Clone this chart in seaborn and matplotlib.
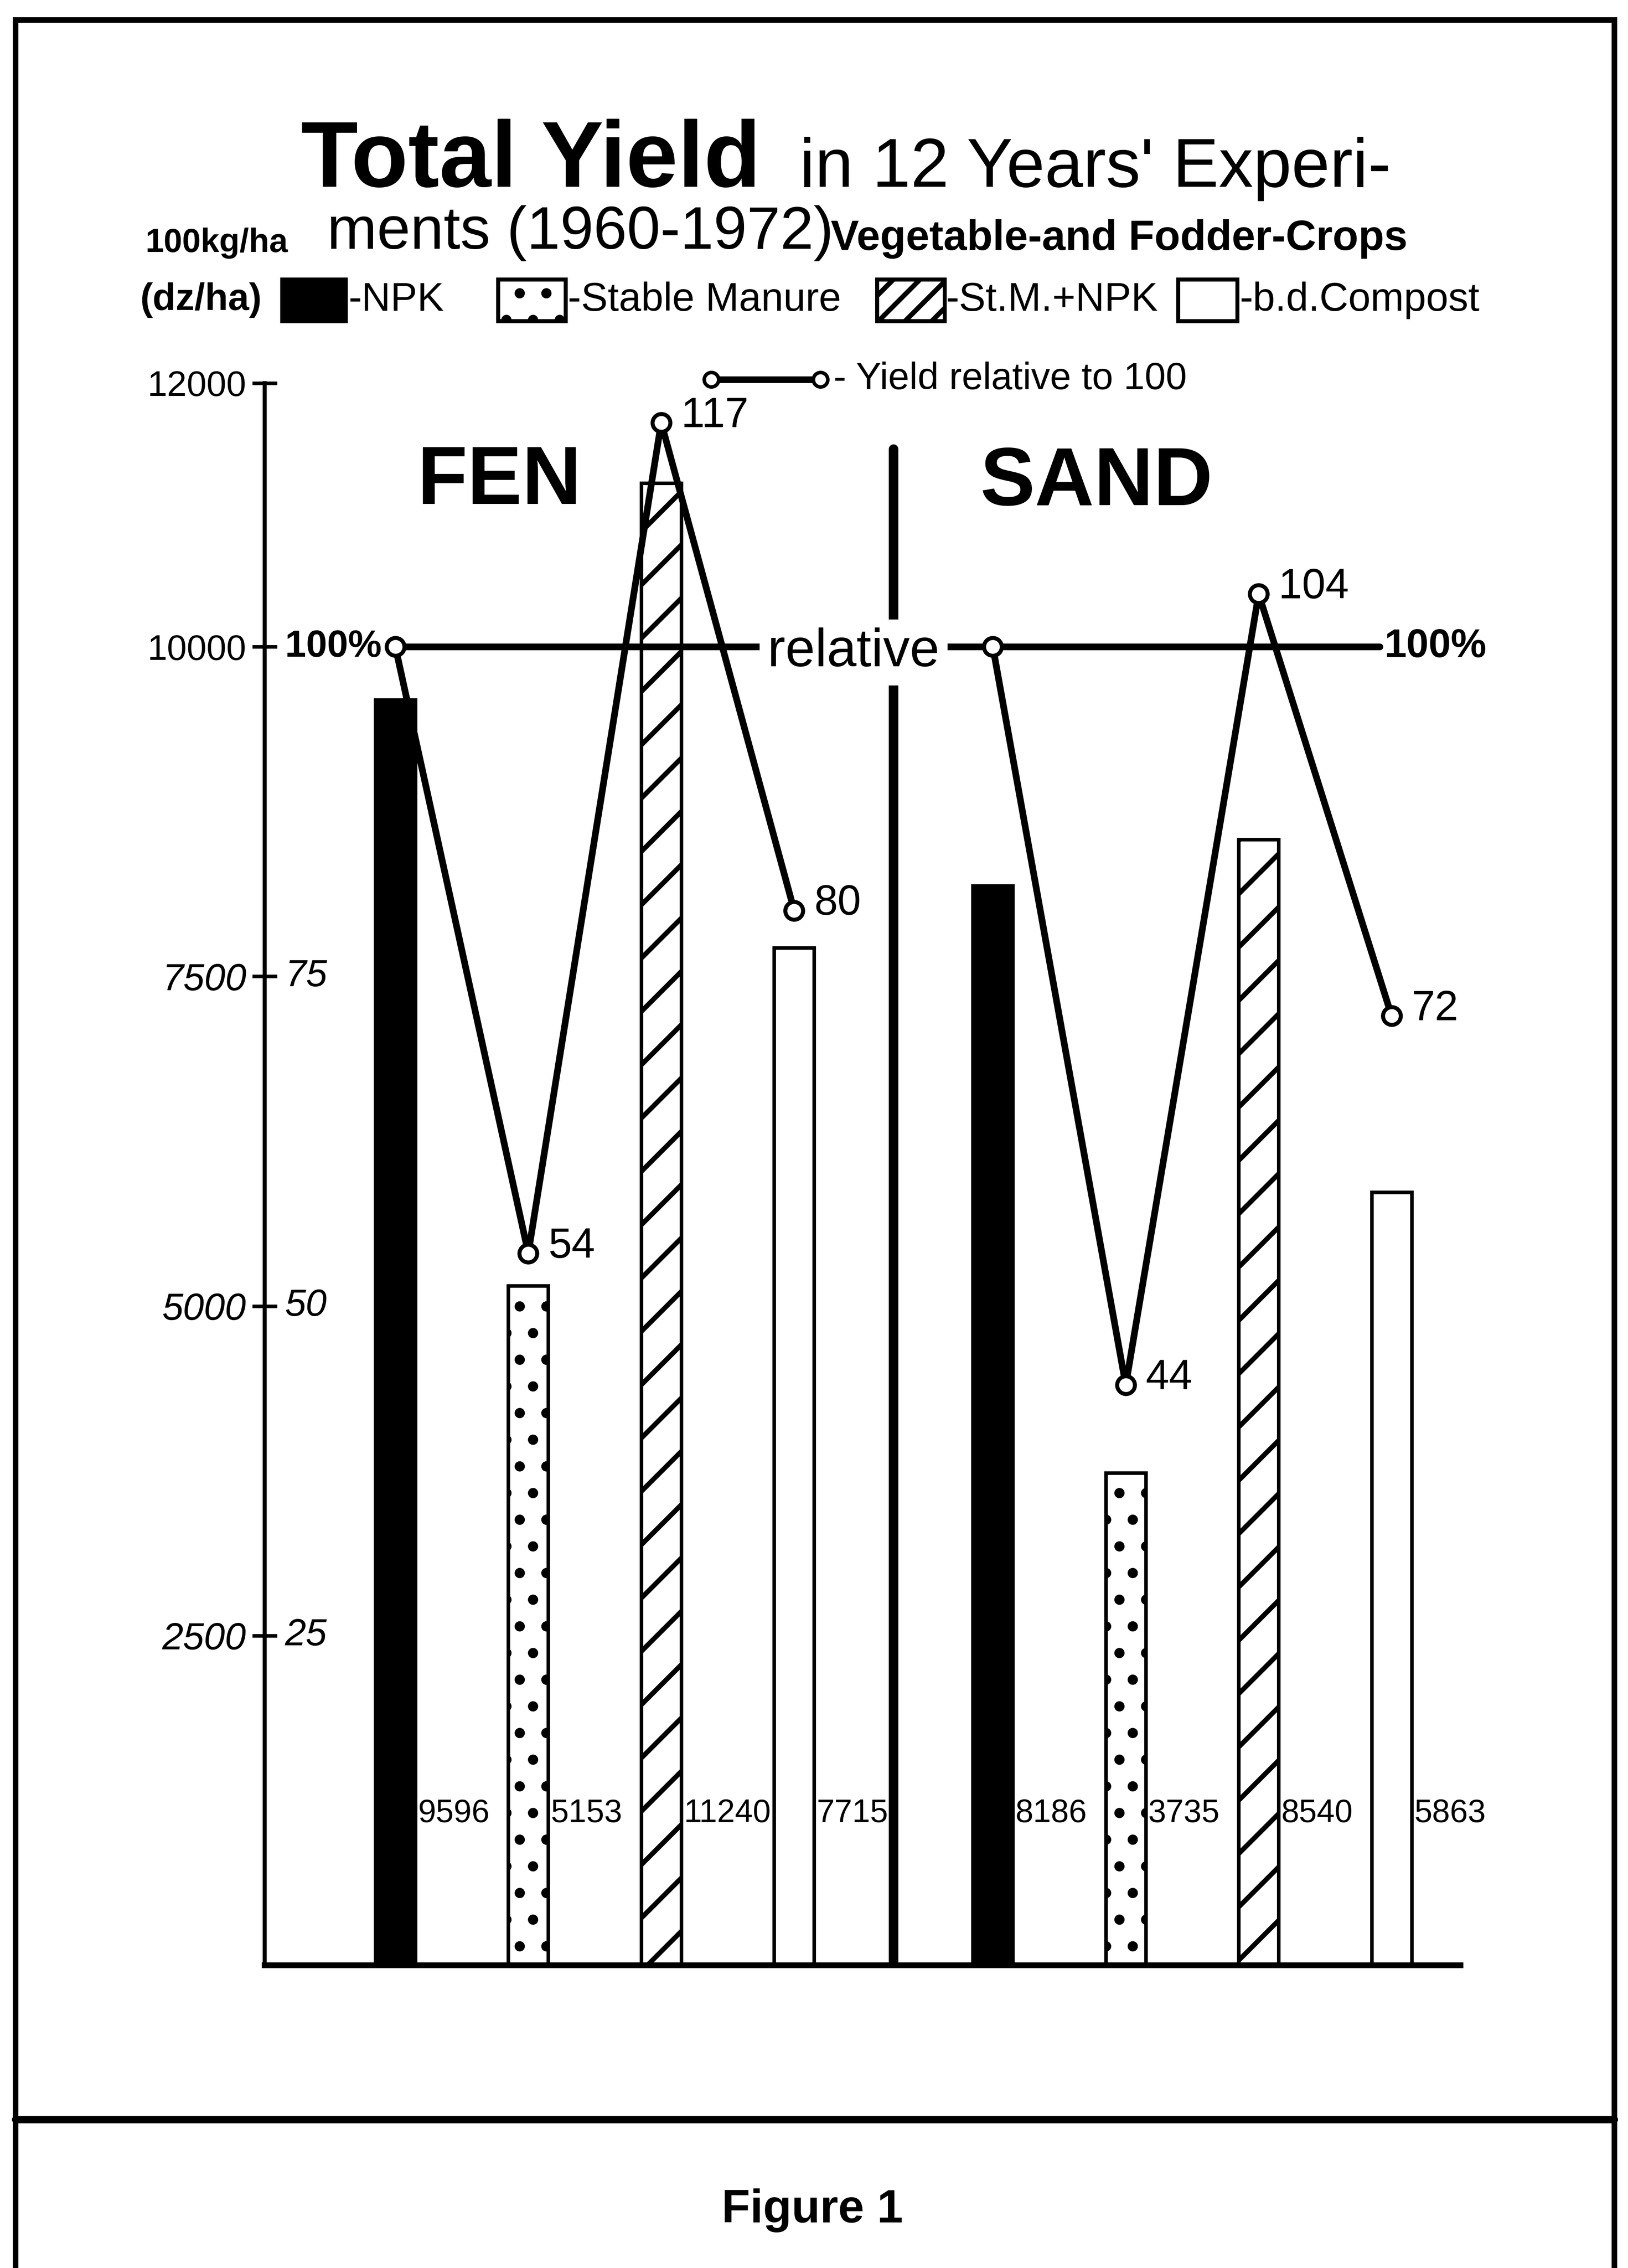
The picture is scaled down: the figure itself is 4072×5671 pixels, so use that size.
import numpy as np
import pandas as pd
import seaborn as sns
import matplotlib.pyplot as plt
from matplotlib.patches import Rectangle
from matplotlib.lines import Line2D

# values
soils = ['FEN', 'SAND']
treatments = ['NPK', 'Stable Manure', 'St.M.+NPK', 'b.d.Compost']
fen_yield = [9596, 5153, 11240, 7715]
sand_yield = [8186, 3735, 8540, 5863]
fen_rel = [100, 54, 117, 80]
sand_rel = [100, 44, 104, 72]

ytick_vals = [2500, 5000, 7500, 10000, 12000]
ytick_labels = ['2500', '5000', '7500', '10000', '12000']
pct_vals = [25, 50, 75, 100]
pct_labels = ['25', '50', '75', '100%']

bar_colors = ['black', 'white', 'white', 'white']
bar_hatches = ['', '.', '/', '']
legend_hatches = ['', '.', '//', '']
legend_labels = ['-NPK', '-Stable Manure', '-St.M.+NPK', '-b.d.Compost']

df = pd.DataFrame({
    'soil': np.repeat(soils, len(treatments)),
    'treatment': treatments * len(soils),
    'yield': fen_yield + sand_yield,
})

sns.set_style('white')
plt.rcParams['font.family'] = ['Liberation Sans', 'DejaVu Sans']
plt.rcParams['hatch.linewidth'] = 2.2
plt.rcParams['axes.edgecolor'] = 'black'
plt.rcParams['text.color'] = 'black'
plt.rcParams['ytick.color'] = 'black'

fig = plt.figure(figsize=(10.18, 14.1775), dpi=400)
ax = fig.add_axes([0.1626, 0.1335, 0.7345, 0.6976])

sns.barplot(data=df, x='soil', y='yield', hue='treatment', order=soils,
            hue_order=treatments, palette=bar_colors, width=0.89, gap=0.7,
            saturation=1, edgecolor='black', linewidth=1.6, legend=False,
            ax=ax, zorder=2)
for cont, h in zip(ax.containers, bar_hatches):
    for bar in cont:
        bar.set_hatch(h)

ax.set_xlim(-0.5524, 1.449)
ax.set_ylim(0, 12000)

# bar centres, rows = treatment, cols = soil
centers = np.array([[b.get_x() + b.get_width() / 2 for b in cont] for cont in ax.containers])

# value labels low down next to each bar
label_y = 1150
for cont in ax.containers:
    for b in cont:
        ax.annotate(f'{int(round(b.get_height()))}', (b.get_x() + b.get_width(), label_y),
                    xytext=(1.2, 0), textcoords='offset points', ha='left', va='center',
                    fontsize=14.5)

# relative yield lines
for j, rel in enumerate([fen_rel, sand_rel]):
    ys = np.array(rel) * 100
    ax.plot(centers[:, j], ys, color='black', lw=3, marker='o', ms=8,
            mfc='white', mec='black', mew=1.8, zorder=4)
    for k, v in enumerate(rel):
        if v != 100:
            ax.annotate(str(v), (centers[k, j], v * 100), xytext=(9, 3),
                        textcoords='offset points', ha='left', va='center', fontsize=19)

# 100 % reference line
ref_end = 1.314
ax.plot([centers[0, 0], ref_end], [10000, 10000], color='black', lw=3, zorder=3)
ax.annotate('100%', (ref_end, 10000), xytext=(2, 0), textcoords='offset points',
            ha='left', va='center', fontsize=18, fontweight='bold')

# divider between the soils
div_x = (centers[-1, 0] + centers[0, 1]) / 2
ax.plot([div_x, div_x], [0, 11500], color='black', lw=4.3, zorder=3, solid_capstyle='round')
ax.text(0.433, 10000, 'relative', fontsize=24, ha='center', va='center_baseline', zorder=5,
        bbox=dict(boxstyle='square,pad=0.15', fc='white', ec='none'))

# axes styling
ax.set_yticks(ytick_vals)
ax.set_yticklabels(ytick_labels, fontsize=16)
for lab, v in zip(ax.get_yticklabels(), ytick_vals):
    if v < 10000:
        lab.set_fontstyle('italic')
        lab.set_fontsize(17)
ax.tick_params(axis='y', left=True, direction='inout', length=11, width=1.6, pad=2.8,
               colors='black')
ax.set_xticks([])
ax.set_xlabel('')
ax.set_ylabel('')
sns.despine(ax=ax, top=True, right=True)
ax.spines['left'].set_linewidth(1.8)
ax.spines['bottom'].set_linewidth(2.6)

trans = ax.get_yaxis_transform()
for v, lab in zip(pct_vals, pct_labels):
    ax.text(0.017, v * 100, lab, transform=trans, ha='left', va='center', fontsize=17,
            fontstyle='italic' if v < 100 else 'normal',
            fontweight='bold' if v == 100 else 'normal')

# soil headings
fig.text(0.3066, 0.7872, 'FEN', ha='center', va='center', fontsize=37, fontweight='bold')
fig.text(0.6735, 0.7866, 'SAND', ha='center', va='center', fontsize=37, fontweight='bold')

# title block
fig.text(0.1849, 0.9177, 'Total Yield', fontsize=42, fontweight='bold', va='baseline')
fig.text(0.4912, 0.9177, "in 12 Years' Experi-", fontsize=31, va='baseline')
fig.text(0.0894, 0.8889, '100kg/ha', fontsize=15, fontweight='bold', va='baseline')
fig.text(0.2009, 0.8903, 'ments (1960-1972)', fontsize=27, va='baseline')
fig.text(0.5103, 0.8898, 'Vegetable-and Fodder-Crops', fontsize=19, fontweight='bold', va='baseline')

# legend row
fig.text(0.0860, 0.8676, '(dz/ha)', fontsize=17, fontweight='bold', va='center')
box_x = [0.1734, 0.3060, 0.5388, 0.7237]
box_w = [0.0390, 0.0415, 0.0415, 0.0363]
text_x = [0.2141, 0.3487, 0.5810, 0.7613]
for i in range(len(treatments)):
    fig.add_artist(Rectangle((box_x[i], 0.8584), box_w[i], 0.01834, transform=fig.transFigure,
                             facecolor=bar_colors[i], edgecolor='black', lw=1.8,
                             hatch=legend_hatches[i]))
    fig.text(text_x[i], 0.8676, legend_labels[i], fontsize=18, va='center')

fig.add_artist(Line2D([0.4369, 0.5039], [0.8327, 0.8327], transform=fig.transFigure,
                      color='black', lw=3, marker='o', ms=6.5, mfc='white', mec='black', mew=1.6))
fig.text(0.5120, 0.8327, '- Yield relative to 100', fontsize=17, va='center')

# page frame and caption
fig.add_artist(Rectangle((0.0096, -0.02), 0.9821, 1.0112, transform=fig.transFigure,
                         fill=False, lw=2.5, edgecolor='black'))
fig.add_artist(Line2D([0.0096, 0.9917], [0.0654, 0.0654], transform=fig.transFigure,
                      color='black', lw=3.3))
fig.text(0.499, 0.0201, 'Figure 1', ha='center', va='baseline', fontsize=21, fontweight='bold')

fig.savefig('out.png', dpi=400, facecolor='white')
